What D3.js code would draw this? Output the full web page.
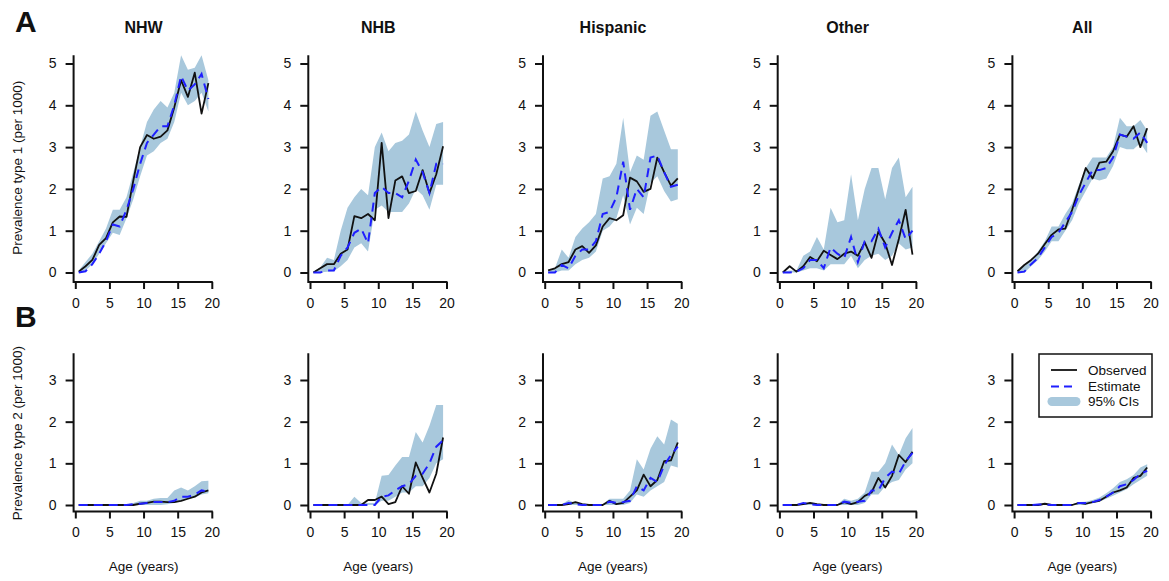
<!DOCTYPE html>
<html>
<head>
<meta charset="utf-8">
<script src="https://cdn.jsdelivr.net/npm/d3@7"></script>
<style>
  body { margin: 0; background: #fff; }
  svg text { font-family: "Liberation Sans", Arial, Helvetica, sans-serif; fill: #111; }
</style>
</head>
<body>
<div id="chart"></div>
<script>
// ages (midpoints of one-year bands)
const ages = [0.5,1.5,2.5,3.5,4.5,5.5,6.5,7.5,8.5,9.5,10.5,11.5,12.5,13.5,14.5,15.5,16.5,17.5,18.5,19.5];
const groups = ["NHW", "NHB", "Hispanic", "Other", "All"];
const xTicks = [0, 5, 10, 15, 20];
const yTicks1 = [0, 1, 2, 3, 4, 5];
const yTicks2 = [0, 1, 2, 3];

// type 1
const nhw1Obs = [0.02,0.15,0.3,0.66,0.82,1.2,1.34,1.33,2.2,3.0,3.29,3.2,3.25,3.4,3.95,4.6,4.2,4.78,3.8,4.53];
const nhw1Est = [0,0.03,0.2,0.45,0.75,1.15,1.1,1.5,2.0,2.6,3.1,3.3,3.5,3.5,4.0,4.7,4.35,4.5,4.75,4.15];
const nhw1Lo  = [0,0.05,0.2,0.45,0.7,0.95,0.9,1.3,1.75,2.3,2.8,2.9,3.1,3.2,3.6,4.3,4.0,4.1,4.3,3.85];
const nhw1Hi  = [0.05,0.25,0.45,0.75,1.05,1.5,1.5,1.8,2.4,3.0,3.6,3.9,4.1,3.95,4.3,5.2,4.85,4.9,5.2,4.6];

const nhb1Obs = [0,0.1,0.2,0.2,0.45,0.55,1.35,1.3,1.4,1.25,3.1,1.3,2.2,2.3,1.9,1.95,2.45,1.9,2.35,3.02];
const nhb1Est = [0,0,0.05,0.05,0.4,0.6,0.95,1.05,0.7,1.9,2.05,1.9,1.9,1.8,2.2,2.7,2.4,1.9,2.6,2.6];
const nhb1Lo  = [0,0,0.02,0.03,0.15,0.3,0.6,0.7,0.5,1.5,1.6,1.45,1.45,1.45,1.65,2.0,1.85,1.5,2.1,2.1];
const nhb1Hi  = [0.02,0.12,0.35,0.3,1.0,1.55,1.8,2.0,1.85,3.0,3.35,2.9,3.1,3.15,3.3,3.85,3.4,3.0,3.55,3.6];

const his1Obs = [0.05,0.1,0.2,0.25,0.55,0.63,0.47,0.65,1.1,1.3,1.25,1.37,2.27,2.18,1.93,2.0,2.75,2.4,2.08,2.25];
const his1Est = [0,0,0.18,0.1,0.4,0.55,0.55,0.75,1.4,1.45,1.8,2.65,1.5,2.0,1.8,2.75,2.8,2.4,2.05,2.1];
const his1Lo  = [0,0,0.05,0.05,0.2,0.3,0.35,0.5,1.0,1.1,1.3,1.85,1.15,1.55,1.4,2.15,2.3,1.95,1.7,1.75];
const his1Hi  = [0.03,0.1,0.55,0.35,0.85,1.05,1.2,1.4,2.25,2.3,2.6,3.7,2.4,2.8,2.7,3.75,3.85,3.4,2.95,2.95];

const oth1Obs = [0,0.15,0.02,0.15,0.37,0.27,0.52,0.42,0.32,0.45,0.5,0.4,0.72,0.35,0.98,0.7,0.18,0.8,1.5,0.43];
const oth1Est = [0,0,0.02,0.1,0.3,0.3,0.1,0.6,0.45,0.35,0.85,0.25,0.75,0.75,1.05,0.6,0.95,1.25,0.8,1.0];
const oth1Lo  = [0,0,0,0.05,0.1,0.1,0.05,0.2,0.2,0.2,0.4,0.1,0.3,0.4,0.45,0.3,0.4,0.7,0.55,0.6];
const oth1Hi  = [0.02,0.05,0.05,0.4,0.5,0.85,0.55,1.55,1.2,1.25,2.35,1.25,2.0,2.5,2.5,1.75,2.5,2.75,1.8,2.05];

const all1Obs = [0.03,0.18,0.3,0.45,0.68,0.9,1.03,1.05,1.5,2.0,2.5,2.25,2.63,2.65,2.9,3.3,3.25,3.5,3.0,3.45];
const all1Est = [0,0.02,0.2,0.35,0.6,0.85,0.95,1.2,1.45,1.85,2.15,2.45,2.45,2.5,2.75,3.3,3.25,3.2,3.35,3.1];
const all1Lo  = [0,0,0.15,0.3,0.5,0.75,0.75,1.0,1.25,1.65,1.95,2.25,2.2,2.25,2.55,3.0,2.95,2.95,3.1,2.85];
const all1Hi  = [0.03,0.15,0.3,0.5,0.75,1.1,1.1,1.4,1.65,2.1,2.5,2.75,2.75,2.75,3.0,3.7,3.5,3.5,3.65,3.4];

// type 2
const nhw2Obs = [0,0,0,0,0,0,0,0,0,0.03,0.05,0.08,0.08,0.07,0.07,0.1,0.15,0.2,0.3,0.35];
const nhw2Est = [0,0,0,0,0,0,0,0,0.02,0.03,0.05,0.07,0.07,0.07,0.1,0.2,0.2,0.25,0.35,0.32];
const nhw2Lo  = [0,0,0,0,0,0,0,0,0,0,0,0,0,0.02,0.05,0.1,0.15,0.18,0.25,0.28];
const nhw2Hi  = [0.01,0.01,0.01,0.01,0.01,0.01,0.01,0.01,0.05,0.1,0.1,0.15,0.17,0.17,0.35,0.42,0.35,0.45,0.57,0.58];

const nhb2Obs = [0,0,0,0,0,0,0,0,0.12,0.12,0.2,0.02,0.07,0.45,0.27,1.02,0.65,0.3,0.75,1.62];
const nhb2Est = [0,0,0,0,0,0,0,0,0,0,0.2,0.23,0.35,0.45,0.5,0.7,0.75,1.0,1.4,1.55];
const nhb2Lo  = [0,0,0,0,0,0,0,0,0,0,0.1,0.1,0.2,0.3,0.3,0.45,0.45,0.65,1.0,1.1];
const nhb2Hi  = [0,0,0,0,0,0,0.2,0.05,0.05,0.05,0.7,0.72,0.95,1.15,1.15,1.75,1.5,1.9,2.4,2.4];

const his2Obs = [0,0,0,0.02,0.07,0.02,0,0,0,0.1,0.02,0.05,0.2,0.35,0.73,0.45,0.6,1.05,1.07,1.5];
const his2Est = [0,0,0,0.05,0.02,0,0,0,0,0.08,0.05,0.07,0.1,0.45,0.35,0.65,0.55,0.95,1.2,1.4];
const his2Lo  = [0,0,0,0,0,0,0,0,0,0,0,0,0.05,0.25,0.2,0.35,0.45,0.55,0.95,0.9];
const his2Hi  = [0.02,0.02,0.02,0.12,0.05,0.02,0.02,0.02,0.02,0.15,0.15,0.15,0.35,1.1,0.85,1.35,1.65,1.45,2.05,1.95];

const oth2Obs = [0,0,0,0.02,0.05,0.02,0,0,0,0.07,0.02,0.07,0.22,0.3,0.65,0.42,0.7,1.2,1.03,1.28];
const oth2Est = [0,0,0,0.05,0.02,0,0,0,0,0.08,0.05,0.08,0.1,0.35,0.35,0.65,0.8,0.75,1.05,1.25];
const oth2Lo  = [0,0,0,0,0,0,0,0,0,0,0,0,0.05,0.25,0.25,0.45,0.55,0.6,0.85,1.0];
const oth2Hi  = [0.01,0.01,0.01,0.05,0.05,0.02,0.02,0.02,0.02,0.15,0.1,0.15,0.3,0.8,0.8,1.0,1.45,1.2,1.6,1.85];

const all2Obs = [0,0,0,0,0.03,0,0,0,0,0.05,0.03,0.07,0.1,0.2,0.3,0.35,0.42,0.65,0.7,0.9];
const all2Est = [0,0,0,0.01,0.01,0,0,0,0,0.05,0.05,0.07,0.12,0.2,0.3,0.45,0.5,0.6,0.75,0.82];
const all2Lo  = [0,0,0,0,0,0,0,0,0,0,0,0.05,0.08,0.15,0.22,0.3,0.38,0.5,0.6,0.7];
const all2Hi  = [0.01,0.01,0.01,0.01,0.02,0.01,0.01,0.01,0.01,0.07,0.08,0.12,0.18,0.28,0.4,0.55,0.62,0.72,0.9,0.98];

const row1 = [[nhw1Obs,nhw1Est,nhw1Lo,nhw1Hi],[nhb1Obs,nhb1Est,nhb1Lo,nhb1Hi],[his1Obs,his1Est,his1Lo,his1Hi],[oth1Obs,oth1Est,oth1Lo,oth1Hi],[all1Obs,all1Est,all1Lo,all1Hi]];
const row2 = [[nhw2Obs,nhw2Est,nhw2Lo,nhw2Hi],[nhb2Obs,nhb2Est,nhb2Lo,nhb2Hi],[his2Obs,his2Est,his2Lo,his2Hi],[oth2Obs,oth2Est,oth2Lo,oth2Hi],[all2Obs,all2Est,all2Lo,all2Hi]];

const bandCol = "#a8c8dc";
const W = 1169, H = 581;

const svg = d3.select("#chart").append("svg")
  .attr("width", W).attr("height", H);

// row layout: where 0 and top tick fall, where the x axis sits
const rows = [
  {data: row1, ticks: yTicks1, y0: 272.5, yTopVal: 5, yTopPx: 63.5, axisY: 282, lineTop: 5.2, tickLab: 305,
   ylab: "Prevalence type 1 (per 1000)", letter: "A", letterY: 32},
  {data: row2, ticks: yTicks2, y0: 505, yTopVal: 3, yTopPx: 380, axisY: 511.5, lineTop: 3.64, tickLab: 535,
   ylab: "Prevalence type 2 (per 1000)", letter: "B", letterY: 327}
];

rows.forEach(function(r, ri) {
  const y = d3.scaleLinear().domain([0, r.yTopVal]).range([r.y0, r.yTopPx]);

  svg.append("text").attr("x", 15).attr("y", r.letterY)
    .style("font-size", "30px").style("font-weight", "bold").text(r.letter);

  svg.append("text")
    .attr("transform", `translate(22, ${(y(0) + y(r.lineTop)) / 2 + 4}) rotate(-90)`)
    .attr("text-anchor", "middle").style("font-size", "13.5px").text(r.ylab);

  r.data.forEach(function(s, ci) {
    const x0 = 75.3 + ci * 234.7;
    const x = d3.scaleLinear().domain([0, 20]).range([x0, x0 + 136.5]);
    const g = svg.append("g");
    const pts = ages.map((a, i) => ({a: a, obs: s[0][i], est: s[1][i], lo: s[2][i], hi: s[3][i]}));

    // CI band
    g.append("path").datum(pts)
      .attr("fill", bandCol)
      .attr("d", d3.area().x(d => x(d.a)).y0(d => y(d.lo)).y1(d => y(d.hi)));

    g.append("path").datum(pts)
      .attr("fill", "none").attr("stroke", "#111").attr("stroke-width", 1.8)
      .attr("stroke-linejoin", "round")
      .attr("d", d3.line().x(d => x(d.a)).y(d => y(d.obs)));

    g.append("path").datum(pts)
      .attr("fill", "none").attr("stroke", "#1f1fff").attr("stroke-width", 2)
      .attr("stroke-dasharray", "9,6")
      .attr("d", d3.line().x(d => x(d.a)).y(d => y(d.est)));

    // axes
    const xa = g.append("g").attr("transform", `translate(0,${r.axisY})`)
      .call(d3.axisBottom(x).tickValues(xTicks).tickSize(7).tickPadding(8).tickFormat(d3.format("d")));
    const ya = g.append("g").attr("transform", `translate(${x(-0.25)},0)`)
      .call(d3.axisLeft(y).tickValues(r.ticks).tickSize(8).tickPadding(9).tickFormat(d3.format("d")));
    [xa, ya].forEach(function(ax) {
      ax.select(".domain").remove();
      ax.selectAll("line").attr("stroke", "#111").attr("stroke-width", 2);
      ax.selectAll("text").style("font-size", "14px").attr("fill", "#111");
    });
    xa.selectAll("text").attr("dy", "0.71em").attr("y", 16);

    g.append("path")
      .attr("fill", "none").attr("stroke", "#111").attr("stroke-width", 2)
      .attr("d", `M${x(-0.25)},${y(r.lineTop)}V${r.axisY}H${x(20) + 1}`);

    if (ri === 0) {
      g.append("text").attr("x", x(10)).attr("y", 33).attr("text-anchor", "middle")
        .style("font-size", "16px").style("font-weight", "bold").text(groups[ci]);
    } else {
      g.append("text").attr("x", x(10)).attr("y", 571).attr("text-anchor", "middle")
        .style("font-size", "13.5px").text("Age (years)");
    }

    // legend in last panel of row B
    if (ri === 1 && ci === 4) {
      const lg = svg.append("g").attr("transform", "translate(1039,354)");
      lg.append("rect").attr("width", 113).attr("height", 63)
        .attr("fill", "#fff").attr("stroke", "#111").attr("stroke-width", 1.5);
      lg.append("line").attr("x1", 12).attr("x2", 38).attr("y1", 16).attr("y2", 16)
        .attr("stroke", "#111").attr("stroke-width", 1.8);
      lg.append("line").attr("x1", 12).attr("x2", 38).attr("y1", 32.5).attr("y2", 32.5)
        .attr("stroke", "#1f1fff").attr("stroke-width", 2).attr("stroke-dasharray", "8,5");
      lg.append("line").attr("x1", 13).attr("x2", 37).attr("y1", 47.5).attr("y2", 47.5)
        .attr("stroke", bandCol).attr("stroke-width", 9).attr("stroke-linecap", "round");
      const labs = ["Observed", "Estimate", "95% CIs"];
      labs.forEach(function(t, i) {
        lg.append("text").attr("x", 49).attr("y", 21 + i * 15.7)
          .style("font-size", "13.5px").text(t);
      });
    }
  });
});
</script>
</body>
</html>
